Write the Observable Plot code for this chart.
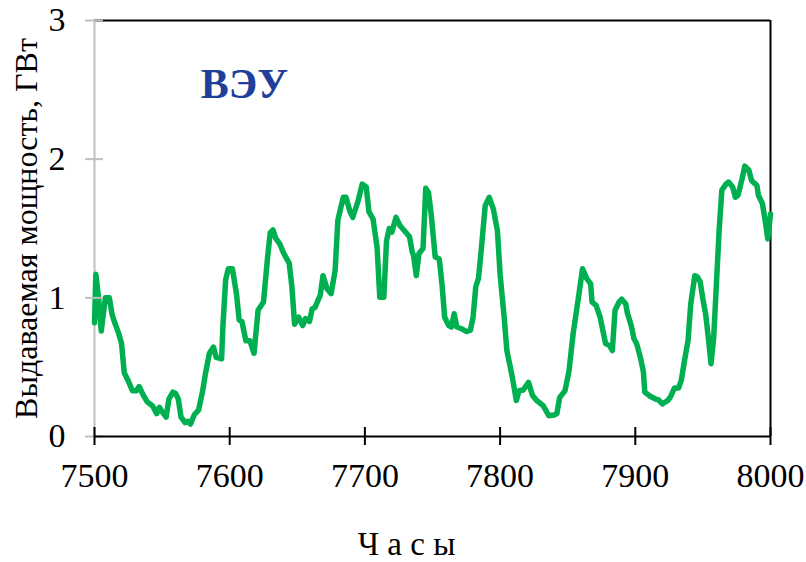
<!DOCTYPE html>
<html><head><meta charset="utf-8">
<script src="https://cdn.jsdelivr.net/npm/d3@7"></script>
<script src="https://cdn.jsdelivr.net/npm/@observablehq/plot@0.6"></script>
<style>body{margin:0;background:#fff}</style>
</head><body><div id="chart"></div>
<script>
const hours = [7500,7501,7503,7505,7508,7511,7513,7515,7518,7520,7522,7525,7528,7531,7533,7536,7539,7543,7546,7548,7550,7553,7555,7558,7560,7562,7564,7567,7569,7571,7574,7577,7580,7582,7585,7588,7590,7594,7595,7597,7599,7602,7605,7607,7609,7612,7615,7618,7621,7625,7628,7630,7632,7634,7637,7640,7644,7646,7648,7651,7654,7656,7659,7661,7663,7667,7669,7672,7675,7678,7680,7684,7686,7689,7691,7695,7698,7701,7703,7706,7709,7711,7714,7716,7718,7720,7723,7726,7730,7733,7735,7736,7738,7740,7743,7745,7747,7749,7752,7755,7757,7759,7762,7764,7766,7768,7772,7775,7778,7780,7782,7784,7786,7789,7792,7795,7798,7800,7803,7805,7809,7812,7814,7817,7821,7824,7827,7832,7836,7840,7842,7844,7848,7851,7854,7858,7861,7864,7867,7868,7871,7874,7876,7878,7881,7883,7885,7888,7890,7893,7894,7897,7899,7901,7904,7906,7907,7911,7915,7917,7920,7924,7926,7929,7932,7934,7936,7939,7941,7944,7946,7948,7950,7952,7954,7956,7958,7960,7962,7964,7967,7969,7972,7974,7976,7979,7981,7984,7986,7990,7991,7994,7996,7998,8000];
const power = [0.82,1.17,1.0,0.76,1.0,1.0,0.88,0.82,0.74,0.67,0.46,0.40,0.33,0.33,0.36,0.30,0.25,0.22,0.165,0.21,0.18,0.14,0.27,0.32,0.31,0.27,0.14,0.10,0.11,0.09,0.16,0.19,0.33,0.45,0.60,0.645,0.57,0.56,0.80,1.13,1.21,1.21,1.03,0.84,0.83,0.69,0.69,0.60,0.91,0.97,1.29,1.47,1.49,1.43,1.39,1.32,1.25,1.08,0.81,0.86,0.80,0.85,0.83,0.92,0.93,1.02,1.16,1.065,1.03,1.20,1.56,1.725,1.725,1.62,1.58,1.70,1.82,1.80,1.62,1.57,1.365,1.005,1.005,1.41,1.50,1.475,1.58,1.52,1.475,1.44,1.33,1.305,1.16,1.32,1.355,1.79,1.76,1.605,1.295,1.28,1.10,0.86,0.80,0.79,0.885,0.79,0.775,0.757,0.765,0.86,1.08,1.14,1.34,1.665,1.725,1.64,1.485,1.17,0.86,0.62,0.43,0.26,0.33,0.335,0.39,0.295,0.26,0.22,0.15,0.155,0.165,0.28,0.33,0.475,0.74,1.005,1.21,1.14,1.10,0.97,0.945,0.86,0.765,0.67,0.655,0.62,0.91,0.97,0.99,0.955,0.895,0.80,0.705,0.67,0.56,0.465,0.32,0.29,0.27,0.265,0.235,0.26,0.285,0.35,0.35,0.405,0.525,0.69,0.955,1.16,1.15,1.115,0.99,0.885,0.715,0.525,0.715,1.10,1.485,1.775,1.82,1.835,1.80,1.725,1.74,1.86,1.95,1.92,1.845,1.81,1.74,1.68,1.56,1.425,1.605];
const xTicks = [7500, 7600, 7700, 7800, 7900, 8000];
const yTicks = [0, 1, 2, 3];
const seriesLabel = "ВЭУ";
const yTitle = "Выдаваемая мощность, ГВт";
const xTitle = "Ч а с ы";

const data = hours.map((h, i) => ({h, p: power[i]}));
const font = '"Liberation Serif", serif';

const chart = Plot.plot({
  width: 806, height: 562,
  marginTop: 20, marginBottom: 126, marginLeft: 94, marginRight: 36,
  style: {fontFamily: font, background: "#fff", color: "#000"},
  x: {domain: [7500, 8000], axis: null},
  y: {domain: [0, 3], axis: null},
  marks: [
    Plot.ruleY([3], {stroke: "#000", strokeWidth: 2}),
    Plot.ruleX([8000], {stroke: "#000", strokeWidth: 2}),
    Plot.ruleX([7500], {stroke: "#bfbfbf", strokeWidth: 2}),
    Plot.line(data, {x: "h", y: "p", stroke: "#00b050", strokeWidth: 5.5, strokeLinejoin: "round", strokeLinecap: "round"}),
    Plot.ruleY(yTicks, {x1: 7500, x2: 7500, insetLeft: -9, insetRight: -9, stroke: "#bfbfbf", strokeWidth: 2}),
    Plot.ruleY([0], {stroke: "#000", strokeWidth: 2}),
    Plot.ruleX(xTicks, {y1: 0, y2: 0, insetTop: -9, insetBottom: -9, stroke: "#000", strokeWidth: 2}),
    // tick labels
    Plot.text(xTicks, {x: d => d, frameAnchor: "bottom", dy: 26, text: d => String(d), fontSize: 34, fontFamily: font, textAnchor: "middle", lineAnchor: "top", fill: "#000", ariaLabel: "x-tick-label"}),
    Plot.text(yTicks, {y: d => d, frameAnchor: "left", dx: -29, text: d => String(d), fontSize: 34, fontFamily: font, textAnchor: "end", lineAnchor: "middle", fill: "#000", ariaLabel: "y-tick-label"}),
    // titles
    Plot.text([yTitle], {frameAnchor: "left", rotate: -90, dx: -68, fontSize: 32, fontFamily: font, textAnchor: "middle", lineAnchor: "middle", fill: "#000", ariaLabel: "y-title"}),
    Plot.text([xTitle], {frameAnchor: "bottom", dx: -26, dy: 108, fontSize: 33, fontFamily: font, textAnchor: "middle", lineAnchor: "middle", fill: "#000", ariaLabel: "x-title"}),
    Plot.text([seriesLabel], {frameAnchor: "top-left", dx: 150, dy: 64, fontSize: 42, fontFamily: font, fontWeight: "bold", textAnchor: "middle", lineAnchor: "middle", fill: "#203f9a"})
  ]
});
document.getElementById("chart").appendChild(chart);

// slightly condensed horizontal lettering, as in the reference
chart.querySelectorAll('g[aria-label="x-tick-label"] text, g[aria-label="y-tick-label"] text, g[aria-label="x-title"] text')
  .forEach(t => {
    const w = t.getComputedTextLength();
    if (w > 0) {
      t.setAttribute("textLength", (w * 0.9).toFixed(2));
      t.setAttribute("lengthAdjust", "spacingAndGlyphs");
    }
  });
</script>
</body></html>
